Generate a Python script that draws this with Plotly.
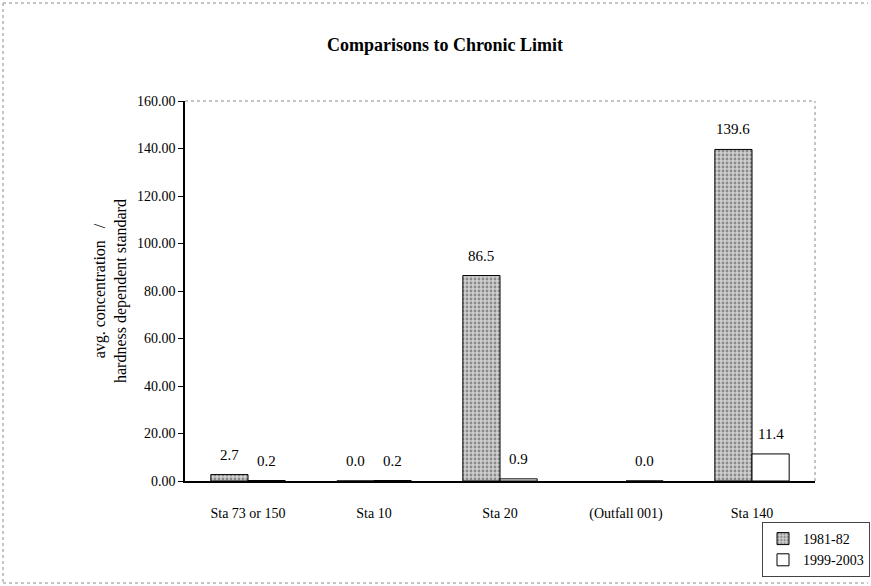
import plotly.graph_objects as go

# Station categories and ratio values (avg. concentration / hardness dependent standard)
stations = ["Sta 73 or 150", "Sta 10", "Sta 20", "(Outfall 001)", "Sta 140"]
series_names = ["1981-82", "1999-2003"]
vals_1981 = [2.7, 0.0, 86.5, None, 139.6]
vals_1999 = [0.2, 0.2, 0.9, 0.0, 11.4]
y_ticks = [0, 20, 40, 60, 80, 100, 120, 140, 160]

W, H = 871, 586
L, R, T, B = 185, 56, 101, 105
plot_w = W - L - R
plot_h = H - T - B

serif = "Liberation Serif"

fig = go.Figure()
fig.add_trace(go.Bar(
    name=series_names[0], x=stations, y=vals_1981,
    marker=dict(
        color="#d0d0d0",
        line=dict(color="black", width=1),
        pattern=dict(shape=".", fgcolor="#444444", bgcolor="#d0d0d0",
                     size=4, solidity=0.4, fillmode="overlay"),
    ),
))
fig.add_trace(go.Bar(
    name=series_names[1], x=stations, y=vals_1999,
    marker=dict(color="white", line=dict(color="black", width=1)),
))

# value labels above each bar
bargap = 0.41
cat_w = plot_w / len(stations)
bar_w = cat_w * (1 - bargap) / 2
annotations = []
for vals, shift in ((vals_1981, -bar_w / 2), (vals_1999, bar_w / 2)):
    for st, v in zip(stations, vals):
        if v is None:
            continue
        annotations.append(dict(
            x=st, y=v, xref="x", yref="y", text=f"{v:.1f}", showarrow=False,
            xshift=shift, yshift=20, yanchor="middle",
            font=dict(family=serif, size=15, color="black"),
        ))

# y-axis title
annotations.append(dict(
    x=(110 - L) / plot_w, y=0.5, xref="paper", yref="paper",
    text="avg. concentration   /<br>hardness dependent standard",
    textangle=-90, showarrow=False, xanchor="center", yanchor="middle",
    font=dict(family=serif, size=16, color="black"),
))

def px_x(p):
    return (p - L) / plot_w

def px_y(p):
    return (H - B - p) / plot_h

shapes = [
    # dotted plot-area border (top and right)
    dict(type="line", xref="paper", yref="paper", x0=0, x1=1, y0=1, y1=1,
         line=dict(color="#8a8a8a", width=1, dash="dot")),
    dict(type="line", xref="paper", yref="paper", x0=1, x1=1, y0=0, y1=1,
         line=dict(color="#8a8a8a", width=1, dash="dot")),
    # dotted chart-area border
    dict(type="line", xref="paper", yref="paper", x0=px_x(3), x1=px_x(3), y0=px_y(3), y1=px_y(583),
         line=dict(color="#8a8a8a", width=1, dash="dot")),
    dict(type="line", xref="paper", yref="paper", x0=px_x(3), x1=px_x(868), y0=px_y(3), y1=px_y(3),
         line=dict(color="#8a8a8a", width=1, dash="dot")),
    dict(type="line", xref="paper", yref="paper", x0=px_x(3), x1=px_x(868), y0=px_y(583), y1=px_y(583),
         line=dict(color="#8a8a8a", width=1, dash="dot")),
]

fig.update_layout(
    width=W, height=H,
    margin=dict(l=L, r=R, t=T, b=B, autoexpand=False),
    paper_bgcolor="white", plot_bgcolor="white",
    barmode="group", bargap=bargap, bargroupgap=0,
    title=dict(text="<b>Comparisons to Chronic Limit</b>", x=445 / W, xanchor="center",
               y=1 - 45 / H, yanchor="middle",
               font=dict(family=serif, size=18, color="black")),
    font=dict(family=serif, size=14, color="black"),
    xaxis=dict(
        showline=True, linecolor="black", linewidth=1.5,
        ticks="", showgrid=False, ticklabelstandoff=18,
        tickfont=dict(family=serif, size=14),
    ),
    yaxis=dict(
        range=[0, 160], tickvals=y_ticks, tickformat=".2f",
        showline=True, linecolor="black", linewidth=1.5,
        ticks="outside", ticklen=5, tickcolor="black",
        showgrid=False, zeroline=False,
        tickfont=dict(family=serif, size=14),
    ),
    legend=dict(
        x=px_x(762), y=px_y(522), xanchor="left", yanchor="top",
        bordercolor="#444", borderwidth=1, bgcolor="white",
        font=dict(family=serif, size=14), tracegroupgap=0,
        itemwidth=30,
    ),
    annotations=annotations,
    shapes=shapes,
)

fig.write_html("out.html")
